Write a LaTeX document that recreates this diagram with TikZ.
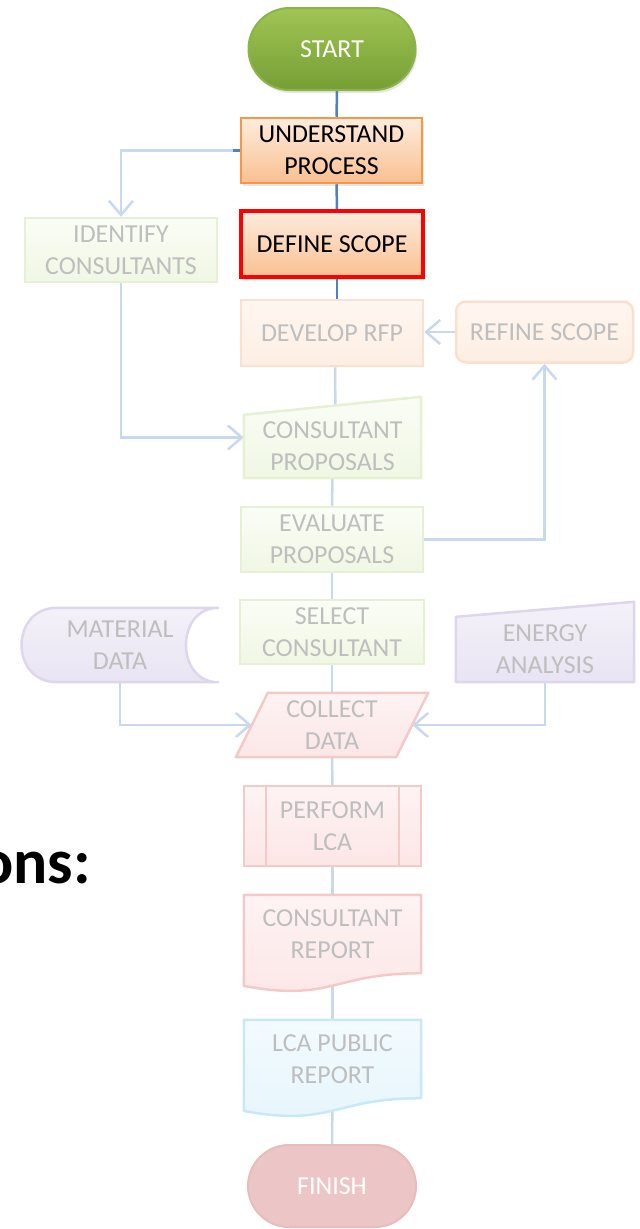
\documentclass[tikz,border=0pt]{standalone}
\usepackage{fontspec}
\setmainfont{Carlito}
\usetikzlibrary{arrows.meta,calc,shadows}
\pgfdeclarelayer{lines}
\pgfdeclarelayer{shapes}
\pgfsetlayers{lines,shapes,main}
\definecolor{darkblue}{RGB}{79,129,189}
\definecolor{lightblue}{RGB}{200,216,238}
\definecolor{fadetext}{RGB}{190,190,190}
\definecolor{startedge}{RGB}{140,180,72}
\definecolor{starttop}{RGB}{160,197,84}
\definecolor{startbot}{RGB}{118,158,52}
\definecolor{orangeedge}{RGB}{247,150,70}
\definecolor{orangetop}{RGB}{253,236,222}
\definecolor{orangebot}{RGB}{250,192,144}
\definecolor{greenedge}{RGB}{230,240,210}
\definecolor{greentop}{RGB}{251,253,246}
\definecolor{greenbot}{RGB}{240,247,228}
\definecolor{peachedge}{RGB}{251,225,205}
\definecolor{peachtop}{RGB}{255,247,241}
\definecolor{peachbot}{RGB}{253,238,226}
\definecolor{purpleedge}{RGB}{222,215,236}
\definecolor{purpletop}{RGB}{243,241,248}
\definecolor{purplebot}{RGB}{233,228,243}
\definecolor{rededge}{RGB}{242,202,202}
\definecolor{redtop}{RGB}{254,243,243}
\definecolor{redbot}{RGB}{252,230,230}
\definecolor{blueedge}{RGB}{200,232,245}
\definecolor{bluetop}{RGB}{243,251,254}
\definecolor{bluebot}{RGB}{230,245,252}
\definecolor{finishfill}{RGB}{236,198,198}
\definecolor{finishedge}{RGB}{230,188,188}

\begin{document}
\begin{tikzpicture}[x=1bp,y=-1bp,
  every node/.style={font=\fontsize{26}{32}\selectfont,align=center,inner sep=0pt},
  >={Straight Barb[length=14bp,width=24bp]},
  darkconn/.style={draw=darkblue,line width=2.5bp},
  lightconn/.style={draw=lightblue,line width=2.5bp},
  terminal/.style={rectangle,rounded corners=41bp,minimum width=167bp,minimum height=82bp,line width=2bp,text=white},
  vivid/.style={draw=orangeedge,line width=2.5bp,top color=orangetop,bottom color=orangebot,
    drop shadow={shadow xshift=1.5bp,shadow yshift=-3bp,opacity=0.2}},
  faded/.style={line width=2.5bp,text=fadetext},
  greenbox/.style={faded,draw=greenedge,top color=greentop,bottom color=greenbot},
  peachbox/.style={faded,draw=peachedge,top color=peachtop,bottom color=peachbot},
  redbox/.style={faded,draw=rededge,top color=redtop,bottom color=redbot},
  greenshape/.style={greenbox,line join=round},
  purpleshape/.style={faded,draw=purpleedge,top color=purpletop,bottom color=purplebot,line join=round},
  redshape/.style={redbox,line join=round},
  blueshape/.style={faded,draw=blueedge,top color=bluetop,bottom color=bluebot,line join=round},
  textonly/.style={text=fadetext}
]
\useasboundingbox (0,0) rectangle (640,1229);
% main column
\node[terminal,draw=startedge,top color=starttop,bottom color=startbot,
  drop shadow={shadow xshift=1.5bp,shadow yshift=-3bp,opacity=0.2}] (start) at (332,49) {START};
\node[vivid,minimum width=181bp,minimum height=65bp] (underst) at (331.5,150.5) {UNDERSTAND\\PROCESS};
\node[vivid,draw=red,line width=4bp,minimum width=182bp,minimum height=66bp] (define) at (332,244) {DEFINE SCOPE};
\node[peachbox,minimum width=182bp,minimum height=66bp] (develop) at (332,333) {DEVELOP RFP};
\node[textonly,minimum width=177bp,minimum height=63bp] (cprop) at (332.5,446.5) {CONSULTANT\\PROPOSALS};
\node[greenbox,minimum width=182bp,minimum height=65bp] (evaluate) at (332,539.5) {EVALUATE\\PROPOSALS};
\node[greenbox,minimum width=184bp,minimum height=64bp] (select) at (332,632) {SELECT\\CONSULTANT};
\node[textonly,minimum width=160bp,minimum height=64bp] (collect) at (332,725) {COLLECT\\DATA};
\node[redbox,minimum width=177bp,minimum height=80bp] (perform) at (332.5,826) {PERFORM\\LCA};
\node[textonly,minimum width=177bp,minimum height=78bp] (creport) at (332.5,934) {CONSULTANT\\REPORT};
\node[textonly,minimum width=177bp,minimum height=78bp] (lcapub) at (332.5,1059) {LCA PUBLIC\\REPORT};
\node[terminal,draw=finishedge,fill=finishfill,minimum width=168bp] (finish) at (332,1186) {FINISH};
% side boxes
\node[greenbox,minimum width=192bp,minimum height=64bp] (identify) at (121,250) {IDENTIFY\\CONSULTANTS};
\node[peachbox,rounded corners=10bp,minimum width=177bp,minimum height=61bp] (refine) at (544.5,332) {REFINE SCOPE};
\node[textonly,minimum width=196bp,minimum height=74bp] (material) at (120,645) {MATERIAL\\DATA};
\node[textonly,minimum width=178bp,minimum height=65bp] (energy) at (545,649.5) {ENERGY\\ANALYSIS};
% cut-off heading
\node[font=\fontsize{64}{70}\selectfont\bfseries,anchor=base east] (ons) at (91,883) {ons:};
% special shapes
\begin{pgfonlayer}{shapes}
\draw[greenshape] (cprop.south west) -- (cprop.north west) -- ($(cprop.north east)+(0,-18)$) -- (cprop.south east) -- cycle;
\draw[purpleshape] (energy.south west) -- (energy.north west) -- ($(energy.north east)+(0,-15)$) -- (energy.south east) -- cycle;
\draw[purpleshape] ($(material.north west)+(35,0)$) -- (material.north east)
  .. controls +(-43,0) and +(-43,0) .. (material.south east) -- ($(material.south west)+(35,0)$)
  .. controls +(-47,0) and +(-47,0) .. ($(material.north west)+(35,0)$) -- cycle;
\draw[redshape] ($(collect.north west)+(16,0)$) -- ($(collect.north east)+(16,0)$) -- ($(collect.south east)+(-16,0)$) -- ($(collect.south west)+(-16,0)$) -- cycle;
\draw[redshape] (creport.south east) -- (creport.north east) -- (creport.north west) -- ($(creport.south west)+(0,12.7)$)
  .. controls ($(creport.south)+(0,29)$) and (creport.south) .. (creport.south east) -- cycle;
\draw[blueshape] (lcapub.south east) -- (lcapub.north east) -- (lcapub.north west) -- ($(lcapub.south west)+(0,12.7)$)
  .. controls ($(lcapub.south)+(0,29)$) and (lcapub.south) .. (lcapub.south east) -- cycle;
\end{pgfonlayer}
% inner bars of perform
\draw[draw=rededge,line width=2bp] ($(perform.north west)+(23,0)$) -- ($(perform.south west)+(23,0)$);
\draw[draw=rededge,line width=2bp] ($(perform.north east)+(-23,0)$) -- ($(perform.south east)+(-23,0)$);
% connectors
\begin{pgfonlayer}{lines}
\draw[darkconn] ([xshift=5bp]start.south) -- ([xshift=5bp]underst.north);
\draw[darkconn] ([xshift=5bp]underst.south) -- ([xshift=5bp]define.north);
\draw[darkconn] ([xshift=5bp]define.south) -- ([xshift=5bp]develop.north);
\draw[lightconn,->] (underst.west) -| (identify.north);
\draw[darkconn] (underst.west) -- ++(-7,0);
\draw[lightconn,->] (identify.south) |- ([yshift=9bp]cprop.west);
\draw[lightconn] ([xshift=3bp]develop.south) -- ([xshift=3bp]cprop.north);
\draw[lightconn] (cprop.south) -- (evaluate.north);
\draw[lightconn,->] (evaluate.east) -| (refine.south);
\draw[lightconn,->] (refine.west) -- (refine.west -| develop.east);
\draw[lightconn] (evaluate.south) -- (select.north);
\draw[lightconn] (select.south) -- (collect.north);
\draw[lightconn,->] (material.south) |- (collect.west);
\draw[lightconn,->] (energy.south) |- (collect.east);
\draw[lightconn] (collect.south) -- (perform.north);
\draw[lightconn] (perform.south) -- (creport.north);
\draw[lightconn] (creport.south) -- (lcapub.north);
\draw[lightconn] (lcapub.south) -- (finish.north);
\end{pgfonlayer}
\end{tikzpicture}
\end{document}
